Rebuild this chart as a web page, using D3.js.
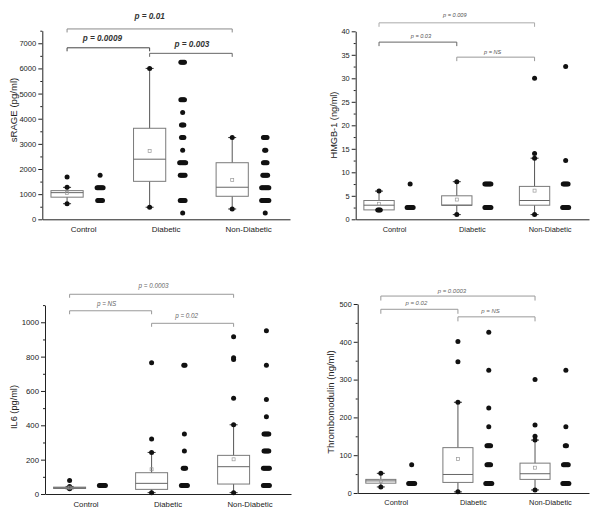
<!DOCTYPE html>
<html><head><meta charset="utf-8">
<script src="https://cdn.jsdelivr.net/npm/d3@7"></script>
<style>
body{margin:0;background:#fff}
svg{display:block}
text{font-family:Arial,"Liberation Sans",sans-serif}
</style>
</head><body>
<svg id="c" width="600" height="519"></svg>
<script>
const categories = ["Control","Diabetic","Non-Diabetic"];

// ---- Panel A: sRAGE (pg/ml)
const sragTicks = [0,1000,2000,3000,4000,5000,6000,7000];
const sragMinor = [500,1500,2500,3500,4500,5500,6500,7500];
const sragQ1 = [880,1510,915];
const sragMedian = [1060,2390,1275];
const sragQ3 = [1140,3620,2250];
const sragMean = [1050,2720,1560];
const sragWhiskLow = [620,480,410];
const sragWhiskHigh = [1270,6000,3250];
const sragOutliers = [[1680],[],[]];
const sragPtsControl = [1750, 1250,1250,1250,1250,1250,1250, 750,750,750,750,750];
const sragPtsDiabetic = [6250,6250,6250,6250, 4750,4750,4750,4750, 4250, 3750,3750,3750, 3250,3250,3250, 2750, 2250,2250,2250,2250,2250,2250, 1750,1750,1750,1750,1750, 750,750,750,750,750, 250];
const sragPtsNonDiabetic = [3250,3250,3250,3250, 2750,2750, 2250,2250,2250,2250, 1750,1750,1750,1750,1750, 1250,1250,1250,1250,1250,1250,1250, 750,750,750,750,750,750,750, 250];
const sragBracketFrom = [0,0,1];
const sragBracketTo = [2,1,2];
const sragBracketLevel = [7570,6820,6600];
const sragBracketLabel = ["p = 0.01","p = 0.0009","p = 0.003"];

// ---- Panel B: HMGB-1 (ng/ml)
const hmgbTicks = [0,5,10,15,20,25,30,35,40];
const hmgbMinor = [2.5,7.5,12.5,17.5,22.5,27.5,32.5,37.5];
const hmgbQ1 = [2,3,3];
const hmgbMedian = [3,3,4];
const hmgbQ3 = [4,5,7];
const hmgbMean = [3.3,4.2,6.1];
const hmgbWhiskLow = [2,1,1];
const hmgbWhiskHigh = [6,8,13];
const hmgbOutliers = [[2,2],[],[14,30]];
const hmgbPtsControl = [7.5, 2.5,2.5,2.5,2.5,2.5,2.5];
const hmgbPtsDiabetic = [7.5,7.5,7.5,7.5,7.5,7.5, 2.5,2.5,2.5,2.5,2.5,2.5];
const hmgbPtsNonDiabetic = [32.5, 12.5, 7.5,7.5,7.5,7.5,7.5, 2.5,2.5,2.5,2.5,2.5,2.5];
const hmgbBracketFrom = [0,0,1];
const hmgbBracketTo = [2,1,2];
const hmgbBracketLevel = [41.8,37.7,34.5];
const hmgbBracketLabel = ["p = 0.009","p = 0.03","p = NS"];

// ---- Panel C: IL6 (pg/ml)
const il6Ticks = [0,200,400,600,800,1000];
const il6Minor = [100,300,500,700,900,1100];
const il6Q1 = [32,27,58];
const il6Median = [36,62,159];
const il6Q3 = [40,124,225];
const il6Mean = [37,144,202];
const il6WhiskLow = [30,8,8];
const il6WhiskHigh = [44,242,403];
const il6Outliers = [[78],[320,765],[558,783,793,916]];
const il6PtsControl = [50,50,50,50,50,50];
const il6PtsDiabetic = [750,750, 350, 250, 150,150,150, 50,50,50,50,50,50];
const il6PtsNonDiabetic = [950, 750, 550, 450, 350,350,350,350,350, 250,250,250,250,250, 150,150,150,150,150,150, 50,50,50,50,50,50];
const il6BracketFrom = [0,0,1];
const il6BracketTo = [2,1,2];
const il6BracketLevel = [1163,1067,994];
const il6BracketLabel = ["p =  0.0003","p = NS","p = 0.02"];

// ---- Panel D: Thrombomodulin (ng/ml)
const tmTicks = [0,100,200,300,400,500];
const tmMinor = [50,150,250,350,450];
const tmQ1 = [26,28,36];
const tmMedian = [32,49,51];
const tmQ3 = [36,120,79];
const tmMean = [32,90,67];
const tmWhiskLow = [16,3,8];
const tmWhiskHigh = [52,240,140];
const tmOutliers = [[],[347,401],[150,180,300]];
const tmPtsControl = [75, 25,25,25,25,25,25];
const tmPtsDiabetic = [425, 325, 225, 175, 125,125,125,125, 75,75,75,75, 25,25,25,25,25,25];
const tmPtsNonDiabetic = [325, 175, 125,125, 75,75,75,75,75, 25,25,25,25,25,25];
const tmBracketFrom = [0,0,1];
const tmBracketTo = [2,1,2];
const tmBracketLevel = [521,486,466];
const tmBracketLabel = ["p = 0.0003","p = 0.02","p = NS"];

// ---------- layout (pixels) ----------
const panels = [
  {label:"sRAGE (pg/ml)", left:42.3, right:290, bottom:219.3, top:30.7, max:7500,
   ticks:sragTicks, minor:sragMinor, q1:sragQ1, med:sragMedian, q3:sragQ3, mean:sragMean,
   wl:sragWhiskLow, wh:sragWhiskHigh, out:sragOutliers,
   pts:[sragPtsControl,sragPtsDiabetic,sragPtsNonDiabetic],
   bf:sragBracketFrom, bt:sragBracketTo, bl:sragBracketLevel, blab:sragBracketLabel,
   bcol:["#8a8a8a","#444","#666"], bTextOff:[10,6.5,6], bTextDx:[0,-6,1], bTick:3.5,
   pFont:8.2, pWeight:"bold", pCol:"#333", tickFont:7.6, catFont:8, yLabFont:9.6, yLabX:16.5, yLabY:110},
  {label:"HMGB-1 (ng/ml)", left:355.7, right:589, bottom:219.3, top:31.3, max:40,
   ticks:hmgbTicks, minor:hmgbMinor, q1:hmgbQ1, med:hmgbMedian, q3:hmgbQ3, mean:hmgbMean,
   wl:hmgbWhiskLow, wh:hmgbWhiskHigh, out:hmgbOutliers,
   pts:[hmgbPtsControl,hmgbPtsDiabetic,hmgbPtsNonDiabetic],
   bf:hmgbBracketFrom, bt:hmgbBracketTo, bl:hmgbBracketLevel, blab:hmgbBracketLabel,
   bcol:["#aaa","#666","#999"], bTextOff:[6,3.8,3.5], bTextDx:[-2,3,-3], bTick:4,
   pFont:5.6, pWeight:"normal", pCol:"#555", tickFont:7.4, catFont:7.4, yLabFont:9.2, yLabX:336.5, yLabY:125},
  {label:"IL6 (pg/ml)", left:45, right:291, bottom:494, top:305.1, max:1100,
   ticks:il6Ticks, minor:il6Minor, q1:il6Q1, med:il6Median, q3:il6Q3, mean:il6Mean,
   wl:il6WhiskLow, wh:il6WhiskHigh, out:il6Outliers,
   pts:[il6PtsControl,il6PtsDiabetic,il6PtsNonDiabetic],
   bf:il6BracketFrom, bt:il6BracketTo, bl:il6BracketLevel, blab:il6BracketLabel,
   bcol:["#999","#999","#999"], bTextOff:[6,4.7,5], bTextDx:[2,-4,-6], bTick:3.5,
   pFont:6.3, pWeight:"normal", pCol:"#666", tickFont:7.8, catFont:7.8, yLabFont:9.2, yLabX:16.5, yLabY:407},
  {label:"Thrombomodulin (ng/ml)", left:357.7, right:589, bottom:493, top:304, max:500,
   ticks:tmTicks, minor:tmMinor, q1:tmQ1, med:tmMedian, q3:tmQ3, mean:tmMean,
   wl:tmWhiskLow, wh:tmWhiskHigh, out:tmOutliers,
   pts:[tmPtsControl,tmPtsDiabetic,tmPtsNonDiabetic],
   bf:tmBracketFrom, bt:tmBracketTo, bl:tmBracketLevel, blab:tmBracketLabel,
   bcol:["#999","#999","#999"], bTextOff:[3,4.3,3.4], bTextDx:[-6,-3,-6], bTick:4.5,
   pFont:6, pWeight:"normal", pCol:"#666", tickFont:7.3, catFont:7.4, yLabFont:9.5, yLabX:333.5, yLabY:402}
];

const svg = d3.select("#c");
const DOT_R = 2.5, SPREAD = 1.2;

function spreadGroup(vals) {
  // group identical values, spread horizontally around center
  const groups = d3.rollups(vals, v => v.length, d => d);
  const out = [];
  groups.forEach(([v, n]) => {
    for (let i = 0; i < n; i++) out.push({v, dx: (i - (n - 1) / 2) * SPREAD});
  });
  return out;
}

panels.forEach(p => {
  const g = svg.append("g");
  const x = d3.scaleBand().domain(categories).range([p.left, p.right]);
  const bw = x.bandwidth();
  const y = d3.scaleLinear().domain([0, p.max]).range([p.bottom, p.top]);
  const boxC = c => x(c) + bw * 0.3;
  const ptsC = c => x(c) + bw * 0.7;
  const boxW = bw * 0.39;

  // y axis
  const ya = g.append("g").attr("transform", `translate(${p.left},0)`)
    .call(d3.axisLeft(y).tickValues(p.ticks).tickSize(4).tickSizeOuter(0).tickPadding(2).tickFormat(d3.format("d")));
  ya.select(".domain").attr("stroke", "#222");
  ya.selectAll(".tick line").attr("stroke", "#222");
  ya.selectAll("text").attr("font-size", p.tickFont).attr("fill", "#222").attr("font-family", "Arial, 'Liberation Sans', sans-serif");
  const ym = g.append("g").attr("transform", `translate(${p.left},0)`)
    .call(d3.axisLeft(y).tickValues(p.minor).tickSize(2).tickSizeOuter(0).tickFormat(""));
  ym.select(".domain").remove();
  ym.selectAll(".tick line").attr("stroke", "#222");

  // x axis
  const xa = g.append("g").attr("transform", `translate(0,${p.bottom})`)
    .call(d3.axisBottom(x).tickSize(0).tickSizeOuter(0).tickPadding(7));
  xa.select(".domain").attr("stroke", "#222");
  xa.selectAll("text").attr("font-size", p.catFont).attr("fill", "#222").attr("font-family", "Arial, 'Liberation Sans', sans-serif");

  // y label
  g.append("text").attr("transform", `translate(${p.yLabX},${p.yLabY}) rotate(-90)`)
    .attr("text-anchor", "middle").attr("font-size", p.yLabFont).attr("fill", "#222").text(p.label);

  // boxes
  categories.forEach((c, i) => {
    const cx = boxC(c);
    // whisker
    g.append("line").attr("x1", cx).attr("x2", cx).attr("y1", y(p.wl[i])).attr("y2", y(p.q1[i])).attr("stroke", "#555");
    g.append("line").attr("x1", cx).attr("x2", cx).attr("y1", y(p.q3[i])).attr("y2", y(p.wh[i])).attr("stroke", "#555");
    [p.wl[i], p.wh[i]].forEach(v => {
      g.append("line").attr("x1", cx - 4).attr("x2", cx + 4).attr("y1", y(v)).attr("y2", y(v)).attr("stroke", "#333");
      g.append("circle").attr("cx", cx).attr("cy", y(v)).attr("r", DOT_R).attr("fill", "#111");
    });
    // box
    g.append("rect").attr("x", cx - boxW / 2).attr("y", y(p.q3[i])).attr("width", boxW)
      .attr("height", Math.max(1, y(p.q1[i]) - y(p.q3[i]))).attr("fill", "none").attr("stroke", "#7a7a7a");
    g.append("line").attr("x1", cx - boxW / 2).attr("x2", cx + boxW / 2).attr("y1", y(p.med[i])).attr("y2", y(p.med[i])).attr("stroke", "#666");
    // mean
    g.append("rect").attr("x", cx - 1.5).attr("y", y(p.mean[i]) - 1.5).attr("width", 3).attr("height", 3)
      .attr("fill", "none").attr("stroke", "#999").attr("stroke-width", 0.7);
    // outliers
    spreadGroup(p.out[i]).forEach(d => {
      g.append("circle").attr("cx", cx + d.dx * 2).attr("cy", y(d.v)).attr("r", DOT_R).attr("fill", "#111");
    });
    // raw points
    spreadGroup(p.pts[i]).forEach(d => {
      g.append("circle").attr("cx", ptsC(c) + d.dx).attr("cy", y(d.v)).attr("r", DOT_R).attr("fill", "#111");
    });
  });

  // brackets
  p.bf.forEach((f, k) => {
    const x1 = boxC(categories[f]), x2 = boxC(categories[p.bt[k]]);
    const yy = y(p.bl[k]);
    g.append("path").attr("d", `M${x1},${yy + p.bTick}V${yy}H${x2}V${yy + p.bTick}`)
      .attr("fill", "none").attr("stroke", p.bcol[k]);
    g.append("text").attr("x", (x1 + x2) / 2 + p.bTextDx[k]).attr("y", yy - p.bTextOff[k])
      .attr("text-anchor", "middle").attr("font-size", p.pFont).attr("font-style", "italic")
      .attr("font-weight", p.pWeight).attr("fill", p.pCol).text(p.blab[k]);
  });
});
</script>
</body></html>
